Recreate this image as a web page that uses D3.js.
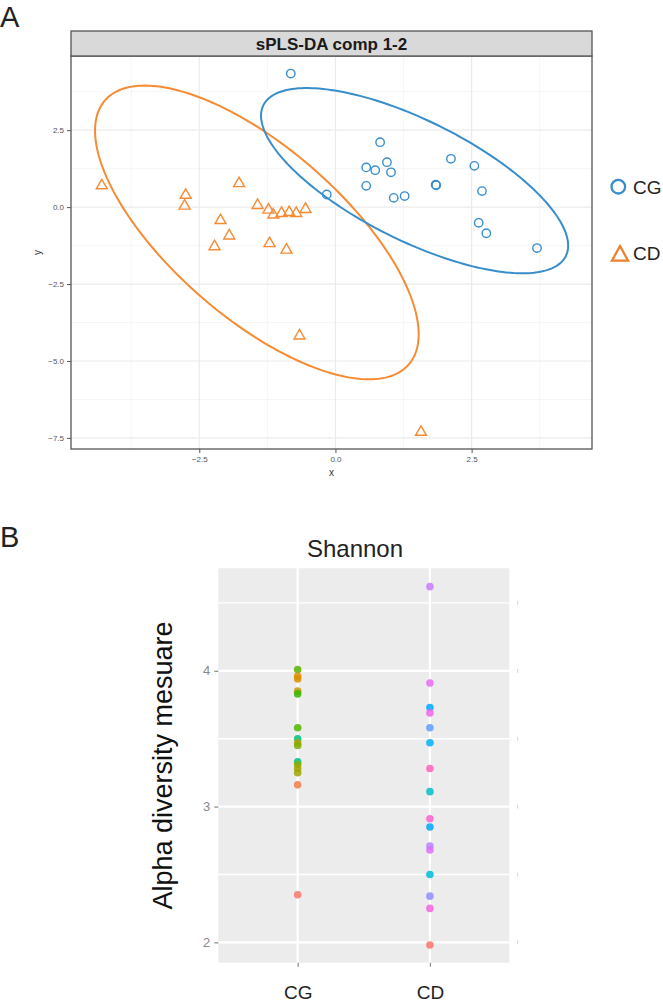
<!DOCTYPE html>
<html>
<head>
<meta charset="utf-8">
<script src="https://cdn.jsdelivr.net/npm/d3@7"></script>
<style>
  html, body { margin: 0; padding: 0; background: #fff; }
  svg { display: block; }
  text { font-family: "Liberation Sans", Arial, Helvetica, sans-serif; }
</style>
</head>
<body>
<svg id="chart" width="663" height="1005"></svg>
<script>
// ---------------- DATA ----------------
// Panel A: sPLS-DA components 1-2
const groups = ["CG", "CD"];
const cgX = [-0.82, 0.82, 2.12, 2.55, 0.565, 0.73, 0.945, 1.02, 0.565, 1.84, 1.85, 2.69, -0.16, 1.07, 1.27, 2.63, 2.77, 3.70];
const cgY = [4.34, 2.11, 1.57, 1.34, 1.29, 1.20, 1.46, 1.13, 0.69, 0.73, 0.71, 0.52, 0.41, 0.30, 0.36, -0.51, -0.85, -1.33];
const cdX = [-4.29, -2.75, -2.77, -1.77, -2.11, -1.95, -2.22, -1.43, -1.23, -1.14, -0.99, -0.85, -0.72, -0.55, -1.21, -0.90, -0.66, 1.57];
const cdY = [0.75, 0.44, 0.09, 0.82, -0.38, -0.88, -1.23, 0.11, -0.04, -0.20, -0.15, -0.12, -0.15, -0.02, -1.13, -1.34, -4.13, -7.26];
const xTicksA = [-2.5, 0.0, 2.5];
const yTicksA = [-7.5, -5.0, -2.5, 0.0, 2.5];
const titleA = "sPLS-DA comp 1-2";
const ellipseLevel = 0.95;

// Panel B: Shannon alpha diversity
const shannonCG = [4.01, 3.96, 3.94, 3.85, 3.83, 3.58, 3.50, 3.47, 3.45, 3.33, 3.31, 3.28, 3.25, 3.16, 2.35];
const shannonCGColors = ["#5BB300", "#E08B00", "#D89000", "#BE9C00", "#39B600", "#53B400", "#00BF7D", "#B79F00", "#7CAE00", "#00C094", "#8AAB00", "#A3A500", "#9DA700", "#EF7F49", "#F8766D"];
const shannonCD = [4.62, 3.91, 3.73, 3.69, 3.58, 3.47, 3.28, 3.11, 2.91, 2.85, 2.71, 2.68, 2.50, 2.34, 2.25, 1.98];
const shannonCDColors = ["#C77CFF", "#E76BF3", "#00A9FF", "#F066EA", "#619CFF", "#00B0F6", "#FF62BC", "#00BFC4", "#FD61D1", "#00A5FF", "#B983FF", "#DC71FA", "#00BCD8", "#8F91FF", "#F564E3", "#F8766D"];
const yTicksB = [2, 3, 4];
const titleB = "Shannon";
const yLabelB = "Alpha diversity mesuare";

// ---------------- STYLE ----------------
const colCG = "#388ECC", colCD = "#F68B33";
const svg = d3.select("#chart");

// ================= PANEL A =================
const A = { left: 71, right: 592, top: 56, bottom: 449, stripTop: 31 };
const xA = d3.scaleLinear().domain([-4.855, 4.71]).range([A.left, A.right]);
const yA = d3.scaleLinear().domain([-7.86, 4.91]).range([A.bottom, A.top]);

svg.append("text").attr("x", 0).attr("y", 27).attr("font-size", 29).attr("fill", "#222").text("A");

const gA = svg.append("g");
gA.append("rect").attr("x", A.left).attr("y", A.top).attr("width", A.right - A.left).attr("height", A.bottom - A.top).attr("fill", "#fff");

function minorTicks(major, domain) {
  const step = major[1] - major[0];
  const out = [];
  for (let v = major[0] - step / 2; v <= major[major.length - 1] + step; v += step) {
    if (v >= Math.min(...domain) && v <= Math.max(...domain)) out.push(v);
  }
  return out;
}
const gridA = gA.append("g");
minorTicks(xTicksA, xA.domain()).forEach(v => gridA.append("line").attr("x1", xA(v)).attr("x2", xA(v)).attr("y1", A.top).attr("y2", A.bottom).attr("stroke", "#F4F4F4").attr("stroke-width", 0.8));
minorTicks(yTicksA, yA.domain()).forEach(v => gridA.append("line").attr("y1", yA(v)).attr("y2", yA(v)).attr("x1", A.left).attr("x2", A.right).attr("stroke", "#F4F4F4").attr("stroke-width", 0.8));
xTicksA.forEach(v => gridA.append("line").attr("x1", xA(v)).attr("x2", xA(v)).attr("y1", A.top).attr("y2", A.bottom).attr("stroke", "#EBEBEB").attr("stroke-width", 1.2));
yTicksA.forEach(v => gridA.append("line").attr("y1", yA(v)).attr("y2", yA(v)).attr("x1", A.left).attr("x2", A.right).attr("stroke", "#EBEBEB").attr("stroke-width", 1.2));

// confidence ellipse from data (ellipse package formula)
function ellipsePoints(xs, ys, level) {
  const n = xs.length;
  const mx = d3.mean(xs), my = d3.mean(ys);
  const sx = d3.deviation(xs), sy = d3.deviation(ys);
  let cov = 0;
  for (let i = 0; i < n; i++) cov += (xs[i] - mx) * (ys[i] - my);
  cov /= (n - 1);
  const r = cov / (sx * sy);
  const t = Math.sqrt(-2 * Math.log(1 - level)); // sqrt(qchisq(level, 2))
  const d = Math.acos(r);
  const pts = [];
  for (let k = 0; k <= 200; k++) {
    const a = 2 * Math.PI * k / 200;
    pts.push([t * sx * Math.cos(a + d / 2) + mx, t * sy * Math.cos(a - d / 2) + my]);
  }
  return pts;
}
const lineA = d3.line().x(d => xA(d[0])).y(d => yA(d[1])).curve(d3.curveLinearClosed);
gA.append("path").attr("d", lineA(ellipsePoints(cdX, cdY, ellipseLevel))).attr("fill", "none").attr("stroke", colCD).attr("stroke-width", 2);
gA.append("path").attr("d", lineA(ellipsePoints(cgX, cgY, ellipseLevel))).attr("fill", "none").attr("stroke", colCG).attr("stroke-width", 2);

// points
const triPath = (w, h) => `M0,${-h / 2}L${w / 2},${h / 2}L${-w / 2},${h / 2}Z`;
cgX.forEach((x, i) => gA.append("circle").attr("cx", xA(x)).attr("cy", yA(cgY[i])).attr("r", 4.2).attr("fill", "none").attr("stroke", colCG).attr("stroke-width", 1.4));
cdX.forEach((x, i) => gA.append("path").attr("transform", `translate(${xA(x)},${yA(cdY[i])})`).attr("d", triPath(11, 9.5)).attr("fill", "none").attr("stroke", colCD).attr("stroke-width", 1.4).attr("stroke-linejoin", "miter"));

// panel border
gA.append("rect").attr("x", A.left).attr("y", A.top).attr("width", A.right - A.left).attr("height", A.bottom - A.top).attr("fill", "none").attr("stroke", "#555").attr("stroke-width", 1.3);
// strip
gA.append("rect").attr("x", A.left).attr("y", A.stripTop).attr("width", A.right - A.left).attr("height", A.top - A.stripTop).attr("fill", "#D9D9D9").attr("stroke", "#555").attr("stroke-width", 1.3);
gA.append("text").attr("x", (A.left + A.right) / 2).attr("y", (A.top + A.stripTop) / 2 + 6).attr("text-anchor", "middle").attr("font-size", 17).attr("font-weight", "bold").attr("fill", "#1a1a1a").text(titleA);

// axes
const axXA = gA.append("g").attr("transform", `translate(0,${A.bottom})`).call(d3.axisBottom(xA).tickValues(xTicksA).tickFormat(d3.format(".1f")).tickSize(4).tickPadding(3));
const axYA = gA.append("g").attr("transform", `translate(${A.left},0)`).call(d3.axisLeft(yA).tickValues(yTicksA).tickFormat(d3.format(".1f")).tickSize(4).tickPadding(3));
[axXA, axYA].forEach(ax => {
  ax.select(".domain").remove();
  ax.selectAll(".tick line").attr("stroke", "#555").attr("stroke-width", 1);
  ax.selectAll(".tick text").attr("font-size", 8).attr("fill", "#555").attr("font-family", "Liberation Sans, Arial, sans-serif");
});
gA.append("text").attr("x", (A.left + A.right) / 2).attr("y", 476).attr("text-anchor", "middle").attr("font-size", 10).attr("fill", "#333").text("x");
gA.append("text").attr("transform", `translate(41,${(A.top + A.bottom) / 2}) rotate(-90)`).attr("text-anchor", "middle").attr("font-size", 10).attr("fill", "#333").text("y");

// legend
const legY = [186.7, 253.3];
gA.append("circle").attr("cx", 618.3).attr("cy", legY[0]).attr("r", 6.8).attr("fill", "none").attr("stroke", colCG).attr("stroke-width", 2.3);
gA.append("path").attr("transform", `translate(620,${legY[1]})`).attr("d", triPath(16, 14.5)).attr("fill", "none").attr("stroke", "#EE7F2D").attr("stroke-width", 2.3);
groups.forEach((g, i) => gA.append("text").attr("x", 633).attr("y", legY[i] + 7).attr("font-size", 19).attr("fill", "#222").text(g));

// ================= PANEL B =================
const B = { left: 218.3, right: 509.3, top: 568.3, bottom: 962.7 };
const xB = d3.scalePoint().domain(groups).range([B.left, B.right]).padding(0.6);
const yB = d3.scaleLinear().domain([1.85, 4.755]).range([B.bottom, B.top]);

svg.append("text").attr("x", 0).attr("y", 547).attr("font-size", 29).attr("fill", "#222").text("B");

const gB = svg.append("g");
gB.append("rect").attr("x", B.left).attr("y", B.top).attr("width", B.right - B.left).attr("height", B.bottom - B.top).attr("fill", "#ECECEC");
// minor grid
minorTicks(yTicksB, yB.domain()).forEach(v => gB.append("line").attr("y1", yB(v)).attr("y2", yB(v)).attr("x1", B.left).attr("x2", B.right).attr("stroke", "#fff").attr("stroke-width", 1.4));
yTicksB.forEach(v => gB.append("line").attr("y1", yB(v)).attr("y2", yB(v)).attr("x1", B.left).attr("x2", B.right).attr("stroke", "#fff").attr("stroke-width", 2.2));
groups.forEach(g => gB.append("line").attr("x1", xB(g)).attr("x2", xB(g)).attr("y1", B.top).attr("y2", B.bottom).attr("stroke", "#fff").attr("stroke-width", 2.2));

// points
const seriesB = [[shannonCG, shannonCGColors], [shannonCD, shannonCDColors]];
seriesB.forEach(([vals, cols], gi) => {
  vals.forEach((v, i) => gB.append("circle").attr("cx", xB(groups[gi])).attr("cy", yB(v)).attr("r", 3.8).attr("fill", cols[i]).attr("fill-opacity", 0.85));
});

// axes
const axYB = gB.append("g").attr("transform", `translate(${B.left},0)`).call(d3.axisLeft(yB).tickValues(yTicksB).tickFormat(d3.format("d")).tickSize(4).tickPadding(4));
const axXB = gB.append("g").attr("transform", `translate(0,${B.bottom})`).call(d3.axisBottom(xB).tickSize(4).tickPadding(20));
[axXB, axYB].forEach(ax => {
  ax.select(".domain").remove();
  ax.selectAll(".tick line").attr("stroke", "#888").attr("stroke-width", 1.2);
});
axYB.selectAll(".tick text").attr("font-size", 13).attr("fill", "#888").attr("font-family", "Liberation Sans, Arial, sans-serif");
axXB.selectAll(".tick text").attr("font-size", 19).attr("fill", "#222").attr("font-family", "Liberation Sans, Arial, sans-serif").attr("dy", null).attr("y", 36);

// faint marks at right edge (remnant of a neighbouring panel)
yB.ticks(6).filter(v => v > 1.9 && v < 4.6 && Math.abs(v * 2 - Math.round(v * 2)) < 1e-9).forEach(v => {
  gB.append("line").attr("x1", 517.7).attr("x2", 517.7).attr("y1", yB(v) - 2).attr("y2", yB(v) + 2).attr("stroke", "#d6d6d6").attr("stroke-width", 1);
});

gB.append("text").attr("x", 355).attr("y", 557).attr("text-anchor", "middle").attr("font-size", 24).attr("fill", "#222").text(titleB);
gB.append("text").attr("transform", `translate(171.5,${(B.top + B.bottom) / 2}) rotate(-90)`).attr("text-anchor", "middle").attr("font-size", 27).attr("fill", "#111").text(yLabelB);
</script>
</body>
</html>
